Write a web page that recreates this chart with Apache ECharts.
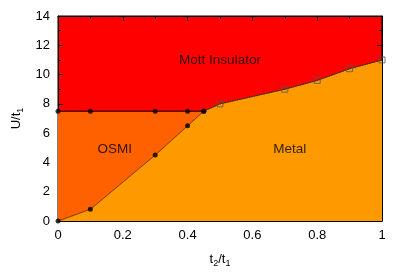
<!DOCTYPE html>
<html><head><meta charset="utf-8">
<script src="https://cdn.jsdelivr.net/npm/echarts@6/dist/echarts.min.js"></script>
<style>html,body{margin:0;padding:0;background:#fff}#c{width:415px;height:280px}</style>
</head><body><div id="c"></div>
<script>
// Mott / OSMI boundary (filled circles)
const mottOsmiX = [0, 0.1, 0.3, 0.4, 0.45];
const mottOsmiU = [7.5, 7.5, 7.5, 7.5, 7.5];
// OSMI / Metal boundary (filled circles)
const osmiMetalX = [0, 0.1, 0.3, 0.4, 0.45];
const osmiMetalU = [0, 0.8, 4.5, 6.5, 7.5];
// Mott / Metal boundary (open squares)
const mottMetalX = [0.45, 0.5, 0.7, 0.8, 0.9, 1.0];
const mottMetalU = [7.5, 8.0, 9.0, 9.6, 10.4, 11.0];
const xTicks = [0, 0.2, 0.4, 0.6, 0.8, 1];
const yTicks = [0, 2, 4, 6, 8, 10, 12, 14];
const regionLabels = [
  {name: 'Mott Insulator', x: 0.5, y: 11.0},
  {name: 'OSMI', x: 0.175, y: 4.9},
  {name: 'Metal', x: 0.715, y: 4.9}
];

const zip = (a, b) => a.map((v, i) => [v, b[i]]);
const metalBoundary = zip(osmiMetalX, osmiMetalU).concat(zip(mottMetalX, mottMetalU).slice(1));
const font = 'Liberation Sans, Arial, Helvetica, sans-serif';

const chart = echarts.init(document.getElementById('c'), null, {renderer: 'canvas'});
const axisCommon = {
  axisLine: {show: true, onZero: false, lineStyle: {color: '#000', width: 1}},
  axisTick: {show: true, inside: true, length: 5, lineStyle: {color: '#000'}},
  minorTick: {show: true, splitNumber: 2, length: 3, lineStyle: {color: '#000'}},
  splitLine: {show: false}
};
chart.setOption({
  animation: false,
  grid: {left: 58, right: 33, top: 16, bottom: 59, show: true, backgroundColor: '#ff0000', borderColor: '#000', borderWidth: 1},
  xAxis: [
    Object.assign({type: 'value', min: xTicks[0], max: xTicks[xTicks.length-1], interval: 0.2, position: 'bottom',
      axisLabel: {color: '#000', fontSize: 13, fontFamily: font, margin: 8, formatter: v => String(+v.toFixed(1))},
      name: '{a|t}{s|2}{a|/t}{s|1}', nameLocation: 'middle', nameGap: 30,
      nameTextStyle: {rich: {a: {fontSize: 13, fontFamily: font, color: '#000'}, s: {fontSize: 9, fontFamily: font, color: '#000', padding: [8, 0, 0, 0]}}}
    }, axisCommon),
    Object.assign({type: 'value', min: 0, max: 1, interval: 0.2, position: 'top', axisLabel: {show: false}}, axisCommon)
  ],
  yAxis: [
    Object.assign({type: 'value', min: yTicks[0], max: yTicks[yTicks.length-1], interval: 2, position: 'left',
      axisLabel: {color: '#000', fontSize: 13, fontFamily: font, margin: 8},
      name: '{a|U/t}{s|1}', nameLocation: 'middle', nameGap: 29, nameRotate: 90,
      nameTextStyle: {rich: {a: {fontSize: 13, fontFamily: font, color: '#000'}, s: {fontSize: 9, fontFamily: font, color: '#000', padding: [8, 0, 0, 0]}}}
    }, axisCommon),
    Object.assign({type: 'value', min: 0, max: 14, interval: 2, position: 'right', axisLabel: {show: false}}, axisCommon)
  ],
  series: [
    {type: 'line', data: zip(mottOsmiX, mottOsmiU), symbol: 'none', z: 2,
      lineStyle: {color: '#000', width: 1}, areaStyle: {color: '#ff6000', opacity: 1, origin: 'start'}},
    {type: 'line', data: metalBoundary, symbol: 'none', z: 3,
      lineStyle: {color: '#5a3000', width: 0.8}, areaStyle: {color: '#ff9900', opacity: 1, origin: 'start'}},
    {type: 'line', data: zip(mottMetalX, mottMetalU), symbol: 'none', z: 4,
      lineStyle: {color: '#3a2a00', width: 1, type: [1.5, 1]}},
    {type: 'scatter', data: zip(mottOsmiX, mottOsmiU).concat(zip(osmiMetalX, osmiMetalU)), symbol: 'circle', symbolSize: 5, z: 5,
      itemStyle: {color: '#000'}},
    {type: 'scatter', data: zip(mottMetalX, mottMetalU).slice(1), symbol: 'rect', symbolSize: 6, z: 5,
      itemStyle: {color: 'rgba(0,0,0,0)', borderColor: '#555', borderWidth: 1}},
    {type: 'scatter', data: regionLabels.map(r => ({name: r.name, value: [r.x, r.y]})), symbolSize: 0, z: 6,
      label: {show: true, position: 'inside', formatter: p => p.name, color: '#000', fontSize: 13.5, fontFamily: font}}
  ]
});
</script></body></html>
